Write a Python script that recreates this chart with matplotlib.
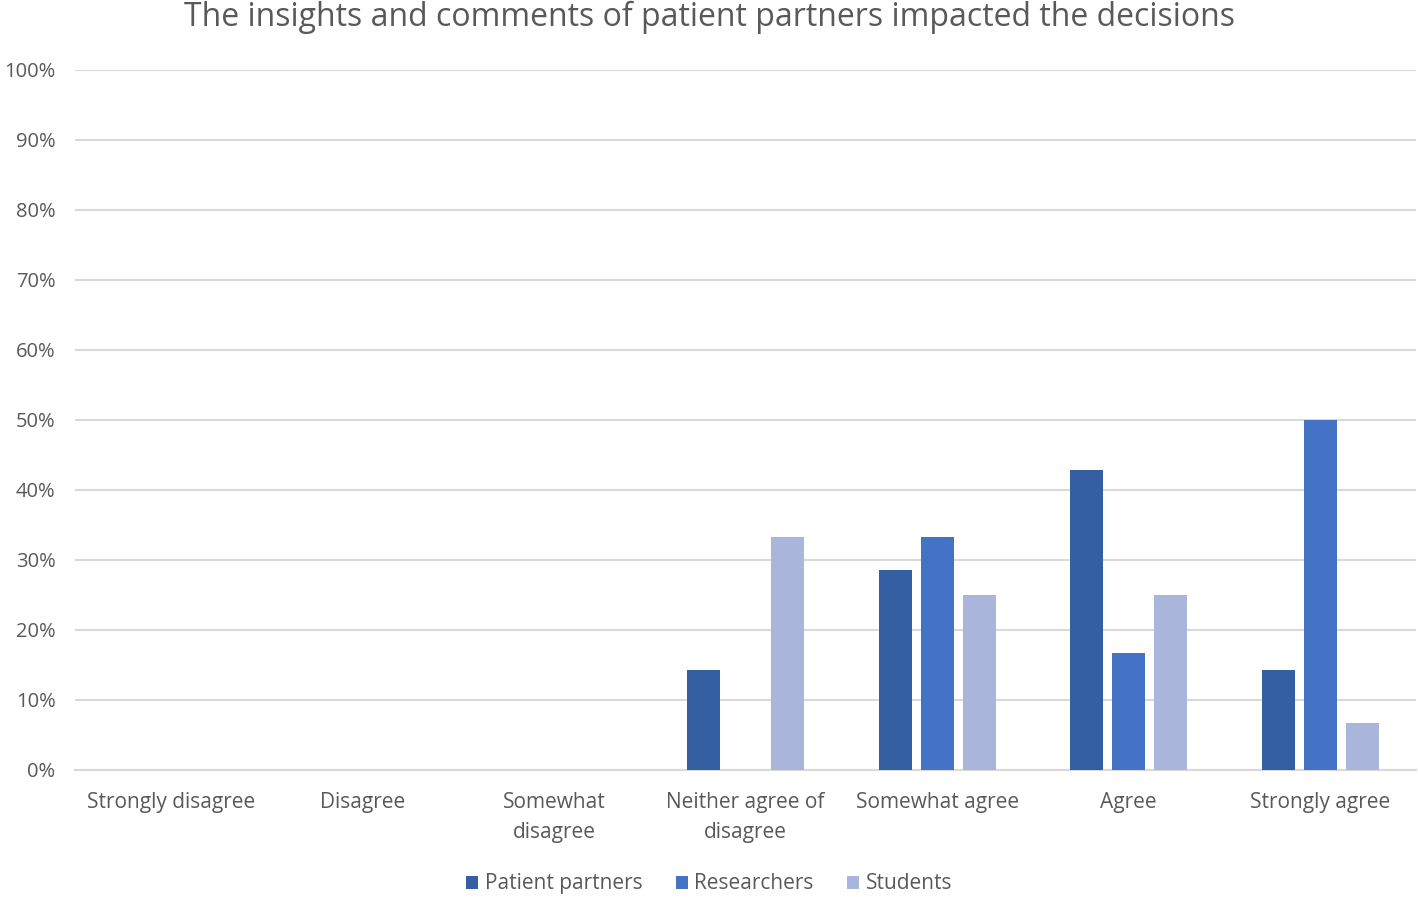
import numpy as np
import matplotlib
matplotlib.use('Agg')
from matplotlib import pyplot as plt

categories = ['Strongly disagree', 'Disagree', 'Somewhat\ndisagree', 'Neither agree of\ndisagree',
              'Somewhat agree', 'Agree', 'Strongly agree']
patient_partners = [0, 0, 0, 14.3, 28.6, 42.9, 14.3]
researchers = [0, 0, 0, 0, 33.3, 16.7, 50.0]
students = [0, 0, 0, 33.3, 25.0, 25.0, 6.7]
series_names = ['Patient partners', 'Researchers', 'Students']
colors = ['#355fa3', '#4472c4', '#a9b5da']

plt.rcParams['font.family'] = ['Open Sans', 'DejaVu Sans']
txt = '#595959'

fig = plt.figure(figsize=(14.18, 8.97), dpi=100)
ax = fig.add_axes([0.0529, 0.1416, 0.9457, 0.7804])

x = np.arange(len(categories))
w = 0.172
step = 0.219
for i, (vals, name) in enumerate(zip([patient_partners, researchers, students], series_names)):
    ax.bar(x + (i - 1) * step, vals, w, color=colors[i], label=name, zorder=3)

ax.set_xlim(-0.5, len(categories) - 0.5)
ax.set_ylim(0, 100)
ax.set_yticks(np.arange(0, 101, 10))
ax.set_yticklabels([f'{v}%' for v in range(0, 101, 10)], color=txt, fontsize=14.5)
ax.set_xticks(x)
ax.set_xticklabels(categories, color=txt, fontsize=15, linespacing=1.55)
ax.tick_params(axis='x', length=0, pad=16)
ax.tick_params(axis='y', length=0, pad=14)
ax.grid(axis='y', color='#d9d9d9', linewidth=1.5, zorder=0)
for s in ['top', 'right', 'left']:
    ax.spines[s].set_visible(False)
ax.spines['bottom'].set_color('#d9d9d9')
ax.spines['bottom'].set_linewidth(1.5)

fig.text(0.5, 0.981, 'The insights and comments of patient partners impacted the decisions',
         ha='center', va='center', fontsize=23, color=txt)

fig.legend(loc='center', bbox_to_anchor=(0.5, 0.0145), ncol=3, frameon=False, fontsize=15,
           handlelength=0.6, handleheight=0.6, handletextpad=0.3, columnspacing=1.6,
           labelcolor=txt)

fig.savefig('out.png', dpi=100)
